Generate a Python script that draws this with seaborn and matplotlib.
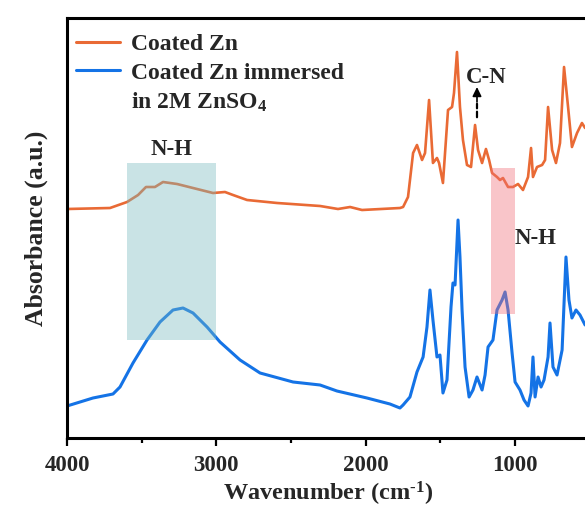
import matplotlib
matplotlib.use("Agg")
import matplotlib.pyplot as plt
from matplotlib.lines import Line2D
import numpy as np
import pandas as pd
import seaborn as sns

# FTIR spectra (wavenumber in cm-1, absorbance in arbitrary units, offset for stacking)
coated_wn = [4000, 3712, 3598, 3524, 3471, 3411, 3357, 3263, 3156, 3022, 2942, 2888,
             2794, 2593, 2305, 2185, 2104, 2024, 1770, 1749, 1716, 1682, 1656, 1622,
             1602, 1575, 1549, 1522, 1508, 1482, 1448, 1421, 1408, 1388, 1368, 1348,
             1321, 1294, 1267, 1247, 1220, 1194, 1173, 1153, 1120, 1100, 1080, 1046,
             1013, 979, 946, 912, 892, 879, 852, 818, 798, 778, 751, 725, 698, 671,
             644, 618, 584, 551, 530]
coated_abs = [229, 230, 236, 243, 251, 251, 256, 254, 250, 245, 246, 243,
              238, 235, 232, 229, 231, 228, 230, 231, 241, 285, 293, 278,
              285, 338, 275, 280, 275, 255, 328, 331, 345, 386, 331, 298,
              273, 271, 313, 288, 275, 289, 278, 265, 261, 258, 260, 251,
              251, 254, 248, 261, 290, 261, 271, 273, 278, 331, 288, 275,
              295, 371, 331, 291, 305, 315, 310]

immersed_wn = [4000, 3826, 3692, 3645, 3558, 3464, 3377, 3290, 3223, 3156, 3062, 2975,
               2841, 2707, 2486, 2305, 2192, 1991, 1837, 1770, 1749, 1703, 1656, 1615,
               1589, 1569, 1549, 1522, 1502, 1482, 1455, 1428, 1415, 1401, 1381, 1368,
               1354, 1334, 1307, 1281, 1254, 1220, 1200, 1180, 1147, 1120, 1086, 1066,
               1046, 1019, 999, 966, 939, 912, 892, 879, 865, 845, 825, 805, 778, 765,
               745, 718, 684, 658, 638, 618, 591, 564, 530]
immersed_abs = [32, 40, 44, 51, 75, 98, 116, 128, 130, 125, 111, 96,
                78, 65, 56, 53, 47, 40, 34, 30, 33, 41, 66, 81,
                111, 148, 118, 81, 83, 45, 58, 131, 155, 153, 218, 181,
                128, 71, 41, 48, 61, 48, 63, 91, 98, 128, 138, 146,
                128, 85, 56, 48, 38, 32, 45, 81, 41, 61, 51, 58, 81, 115,
                71, 63, 88, 181, 138, 120, 128, 123, 113]

series_names = ["Coated Zn", "Coated Zn immersed"]
series_colors = ["#E96A35", "#1473E6"]

# highlighted bands: (wn_high, wn_low, abs_low, abs_high)
nh_band_broad = (3600, 3000, 98, 275)
nh_band_narrow = (1160, 1000, 124, 270)

sns.set_theme(style="white")
plt.rcParams["font.family"] = ["Liberation Serif", "DejaVu Serif"]
plt.rcParams["font.weight"] = "bold"
plt.rcParams["mathtext.fontset"] = "custom"
plt.rcParams["mathtext.rm"] = "Liberation Serif:bold"
plt.rcParams["mathtext.it"] = "Liberation Serif:bold"
plt.rcParams["mathtext.bf"] = "Liberation Serif:bold"
plt.rcParams["mathtext.default"] = "rm"

fig = plt.figure(figsize=(5.85, 5.11), dpi=100)
ax = fig.add_axes([67 / 585, 73 / 511, 537.5 / 585, 420 / 511])

df = pd.concat([
    pd.DataFrame({"wn": coated_wn, "abs": coated_abs, "sample": series_names[0]}),
    pd.DataFrame({"wn": immersed_wn, "abs": immersed_abs, "sample": series_names[1]}),
])
for name, color, lw in zip(series_names, series_colors, [1.9, 2.2]):
    sns.lineplot(data=df[df["sample"] == name], x="wn", y="abs", color=color,
                 linewidth=lw, ax=ax, legend=False, sort=True, zorder=2)

# translucent bands drawn over the spectra
for (hi, lo, b0, b1), fc in [(nh_band_broad, (120 / 255, 187 / 255, 192 / 255)),
                             (nh_band_narrow, (240 / 255, 110 / 255, 120 / 255))]:
    ax.fill_between([lo, hi], b0, b1, color=fc, alpha=0.4, linewidth=0, zorder=3)

ax.set_xlim(4000, 400)
ax.set_ylim(0, 420)
ax.set_xticks([4000, 3000, 2000, 1000])
ax.set_xticklabels(["4000", "3000", "2000", "1000"])
ax.set_xticks([3500, 2500, 1500, 500], minor=True)
ax.set_yticks([])
ax.tick_params(axis="x", which="major", direction="out", length=6, width=1.6,
               labelsize=16.5, pad=6, bottom=True, color="black")
ax.tick_params(axis="x", which="minor", direction="out", length=3.5, width=1.6,
               bottom=True, color="black")
for lab in ax.get_xticklabels():
    lab.set_fontweight("bold")
for side in ["left", "bottom", "top", "right"]:
    ax.spines[side].set_linewidth(2.2)
    ax.spines[side].set_color("black")

ax.set_xlabel(r"Wavenumber (cm$^{\text{-1}}$)", fontsize=17.5, fontweight="bold")
ax.xaxis.set_label_coords(0.486, -0.134, transform=ax.transAxes)
ax.xaxis.label.set_va("center")
ax.set_ylabel("Absorbance (a.u.)", fontsize=18.5, fontweight="bold", labelpad=14)

# peak annotations
ax.text(3300, 289, "N-H", fontsize=16.5, fontweight="bold", ha="center", va="center")
ax.text(865, 200, "N-H", fontsize=16.5, fontweight="bold", ha="center", va="center")
ax.text(1194, 361, "C-N", fontsize=16.5, fontweight="bold", ha="center", va="center")
ax.annotate("", xy=(1254, 337), xytext=(1254, 318),
            arrowprops=dict(arrowstyle="-", linestyle=(0, (2.5, 1.5)), lw=1.6, color="black"))
ax.annotate("", xy=(1254, 351), xytext=(1254, 336),
            arrowprops=dict(arrowstyle="-|>,head_length=0.45,head_width=0.22",
                            lw=1.2, color="black", shrinkA=0, shrinkB=0))

handles = [Line2D([], [], color=series_colors[0], lw=2.2),
           Line2D([], [], color=series_colors[1], lw=2.2),
           Line2D([], [], color="none", lw=0)]
labels = ["Coated Zn", "Coated Zn immersed", "in 2M ZnSO$_4$"]
leg = ax.legend(handles, labels, loc="upper left", bbox_to_anchor=(0.016, 0.962),
                frameon=False, fontsize=17, handlelength=1.9, handletextpad=0.45,
                labelspacing=0.28, borderpad=0, borderaxespad=0)
for t in leg.get_texts():
    t.set_fontweight("bold")

fig.savefig("out.png", dpi=100)
